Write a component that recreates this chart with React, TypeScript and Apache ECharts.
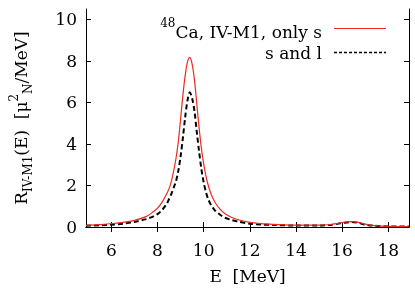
import React, { useEffect, useRef } from "react";
import * as echarts from "echarts";

const energyOnlyS = [4.9, 5.5, 6, 6.5, 7, 7.5, 7.8, 8.0, 8.2, 8.4, 8.5, 8.6, 8.7, 8.8, 8.9, 9.0, 9.1, 9.2, 9.3, 9.4, 9.5, 9.6, 9.7, 9.8, 9.9, 10.0, 10.1, 10.2, 10.3, 10.4, 10.5, 10.7, 10.9, 11.2, 11.5, 12, 12.5, 13, 14, 15, 15.5, 15.8, 16.1, 16.4, 16.7, 17.0, 17.4, 18, 18.9];
const onlyS = [0.08, 0.11, 0.16, 0.22, 0.32, 0.5, 0.72, 0.91, 1.2, 1.6, 1.85, 2.2, 2.7, 3.3, 4.1, 5.2, 6.35, 7.3, 7.95, 8.17, 7.85, 7.1, 5.95, 4.8, 3.8, 3.05, 2.45, 2.0, 1.65, 1.38, 1.17, 0.87, 0.66, 0.47, 0.35, 0.22, 0.16, 0.13, 0.09, 0.09, 0.12, 0.17, 0.23, 0.26, 0.22, 0.14, 0.07, 0.03, 0.02];

const energySandL = [4.9, 5.5, 6, 6.5, 7, 7.5, 7.8, 8.0, 8.2, 8.4, 8.5, 8.6, 8.7, 8.8, 8.9, 9.0, 9.1, 9.2, 9.3, 9.4, 9.5, 9.6, 9.7, 9.8, 9.9, 10.0, 10.1, 10.2, 10.3, 10.4, 10.5, 10.7, 10.9, 11.2, 11.5, 12, 12.5, 13, 14, 15, 15.5, 15.8, 16.1, 16.4, 16.7, 17.0, 17.4, 18, 18.9];
const sAndL = [0.06, 0.08, 0.11, 0.16, 0.24, 0.38, 0.5, 0.62, 0.82, 1.12, 1.35, 1.6, 1.9, 2.2, 2.7, 3.4, 4.3, 5.3, 6.1, 6.49, 6.2, 5.6, 4.6, 3.65, 2.8, 2.15, 1.68, 1.33, 1.1, 0.93, 0.78, 0.6, 0.46, 0.34, 0.26, 0.16, 0.12, 0.1, 0.07, 0.07, 0.1, 0.15, 0.21, 0.24, 0.2, 0.12, 0.06, 0.03, 0.02];

const xTicks = [6, 8, 10, 12, 14, 16, 18];
const yTicks = [0, 2, 4, 6, 8, 10];

const seriesNames = ["48Ca, IV-M1, only s", "s and l"];

const FONT = "DejaVu Serif";
const FS = 17;
const RED = "#ee2a1f";

export default function App() {
  const ref = useRef<HTMLDivElement>(null);
  useEffect(() => {
    if (!ref.current) return;
    const chart = echarts.init(ref.current, null, { renderer: "svg" });
    const zip = (xs: number[], ys: number[]) => xs.map((x, i) => [x, ys[i]]);
    const xBase = { type: "value", min: 4.9, max: 18.9, splitLine: { show: false } };
    const yBase = { type: "value", min: 0, max: 10.5, splitLine: { show: false } };
    chart.setOption({
      animation: false,
      textStyle: { fontFamily: FONT },
      grid: { left: 82, right: 6, top: 9, bottom: 63, show: false },
      xAxis: [
        {
          ...xBase,
          position: "bottom",
          axisLine: { show: true, lineStyle: { color: "#000", width: 1 } },
          axisTick: { show: true, inside: true, length: 5, customValues: xTicks, lineStyle: { color: "#000" } },
          axisLabel: { customValues: xTicks, color: "#000", fontFamily: FONT, fontSize: FS, margin: 14 },
          name: "E  [MeV]",
          nameLocation: "middle",
          nameGap: 40,
          nameTextStyle: { color: "#000", fontFamily: FONT, fontSize: FS },
        },
        {
          ...xBase,
          position: "top",
          axisLine: { show: true, lineStyle: { color: "#000", width: 1 } },
          axisTick: { show: true, inside: true, length: 5, customValues: xTicks, lineStyle: { color: "#000" } },
          axisLabel: { show: false },
        },
      ],
      yAxis: [
        {
          ...yBase,
          position: "left",
          axisLine: { show: true, lineStyle: { color: "#000", width: 1 } },
          axisTick: { show: true, inside: true, length: 5, customValues: yTicks, lineStyle: { color: "#000" } },
          axisLabel: { customValues: yTicks, color: "#000", fontFamily: FONT, fontSize: FS, margin: 9 },
          name: "{b|R}{s|IV-M1}{b|(E)  [μ}{p|2}{s|N}{b|/MeV]}",
          nameLocation: "middle",
          nameRotate: 90,
          nameGap: 52,
          nameTextStyle: {
            color: "#000",
            fontFamily: FONT,
            rich: {
              b: { fontSize: FS, fontFamily: FONT, color: "#000", lineHeight: 26, verticalAlign: "middle" },
              s: { fontSize: 12, fontFamily: FONT, color: "#000", lineHeight: 26, verticalAlign: "bottom" },
              p: { fontSize: 12, fontFamily: FONT, color: "#000", lineHeight: 26, verticalAlign: "top" },
            },
          },
        },
        {
          ...yBase,
          position: "right",
          axisLine: { show: true, lineStyle: { color: "#000", width: 1 } },
          axisTick: { show: true, inside: true, length: 5, customValues: yTicks, lineStyle: { color: "#000" } },
          axisLabel: { show: false },
        },
      ],
      series: [
        {
          name: seriesNames[0],
          type: "line",
          data: zip(energyOnlyS, onlyS),
          smooth: 0.3,
          symbol: "none",
          lineStyle: { color: RED, width: 1.2 },
          z: 3,
        },
        {
          name: seriesNames[1],
          type: "line",
          data: zip(energySandL, sAndL),
          smooth: 0.3,
          symbol: "none",
          lineStyle: { color: "#000", width: 2, type: [5, 3] },
          z: 2,
        },
      ],
      graphic: [
        {
          type: "text",
          right: 415 - 322,
          top: 17,
          style: {
            text: "{p|48}{b|Ca, IV-M1, only s}",
            align: "right",
            fill: "#000",
            rich: {
              b: { fontSize: FS, fontFamily: FONT, fill: "#000", lineHeight: 23, verticalAlign: "bottom" },
              p: { fontSize: 12, fontFamily: FONT, fill: "#000", lineHeight: 23, verticalAlign: "top" },
            },
          },
        },
        {
          type: "text",
          right: 415 - 322,
          top: 44,
          style: { text: "s and l", fontSize: FS, fontFamily: FONT, fill: "#000" },
        },
        {
          type: "line",
          shape: { x1: 334, y1: 28.5, x2: 386, y2: 28.5 },
          style: { stroke: RED, lineWidth: 1.2 },
        },
        {
          type: "line",
          shape: { x1: 334, y1: 52.5, x2: 386, y2: 52.5 },
          style: { stroke: "#000", lineWidth: 1.5, lineDash: [3, 2] },
        },
      ],
    });
    return () => chart.dispose();
  }, []);
  return <div ref={ref} style={{ position: "fixed", left: 0, top: 0, width: 415, height: 290 }} />;
}
